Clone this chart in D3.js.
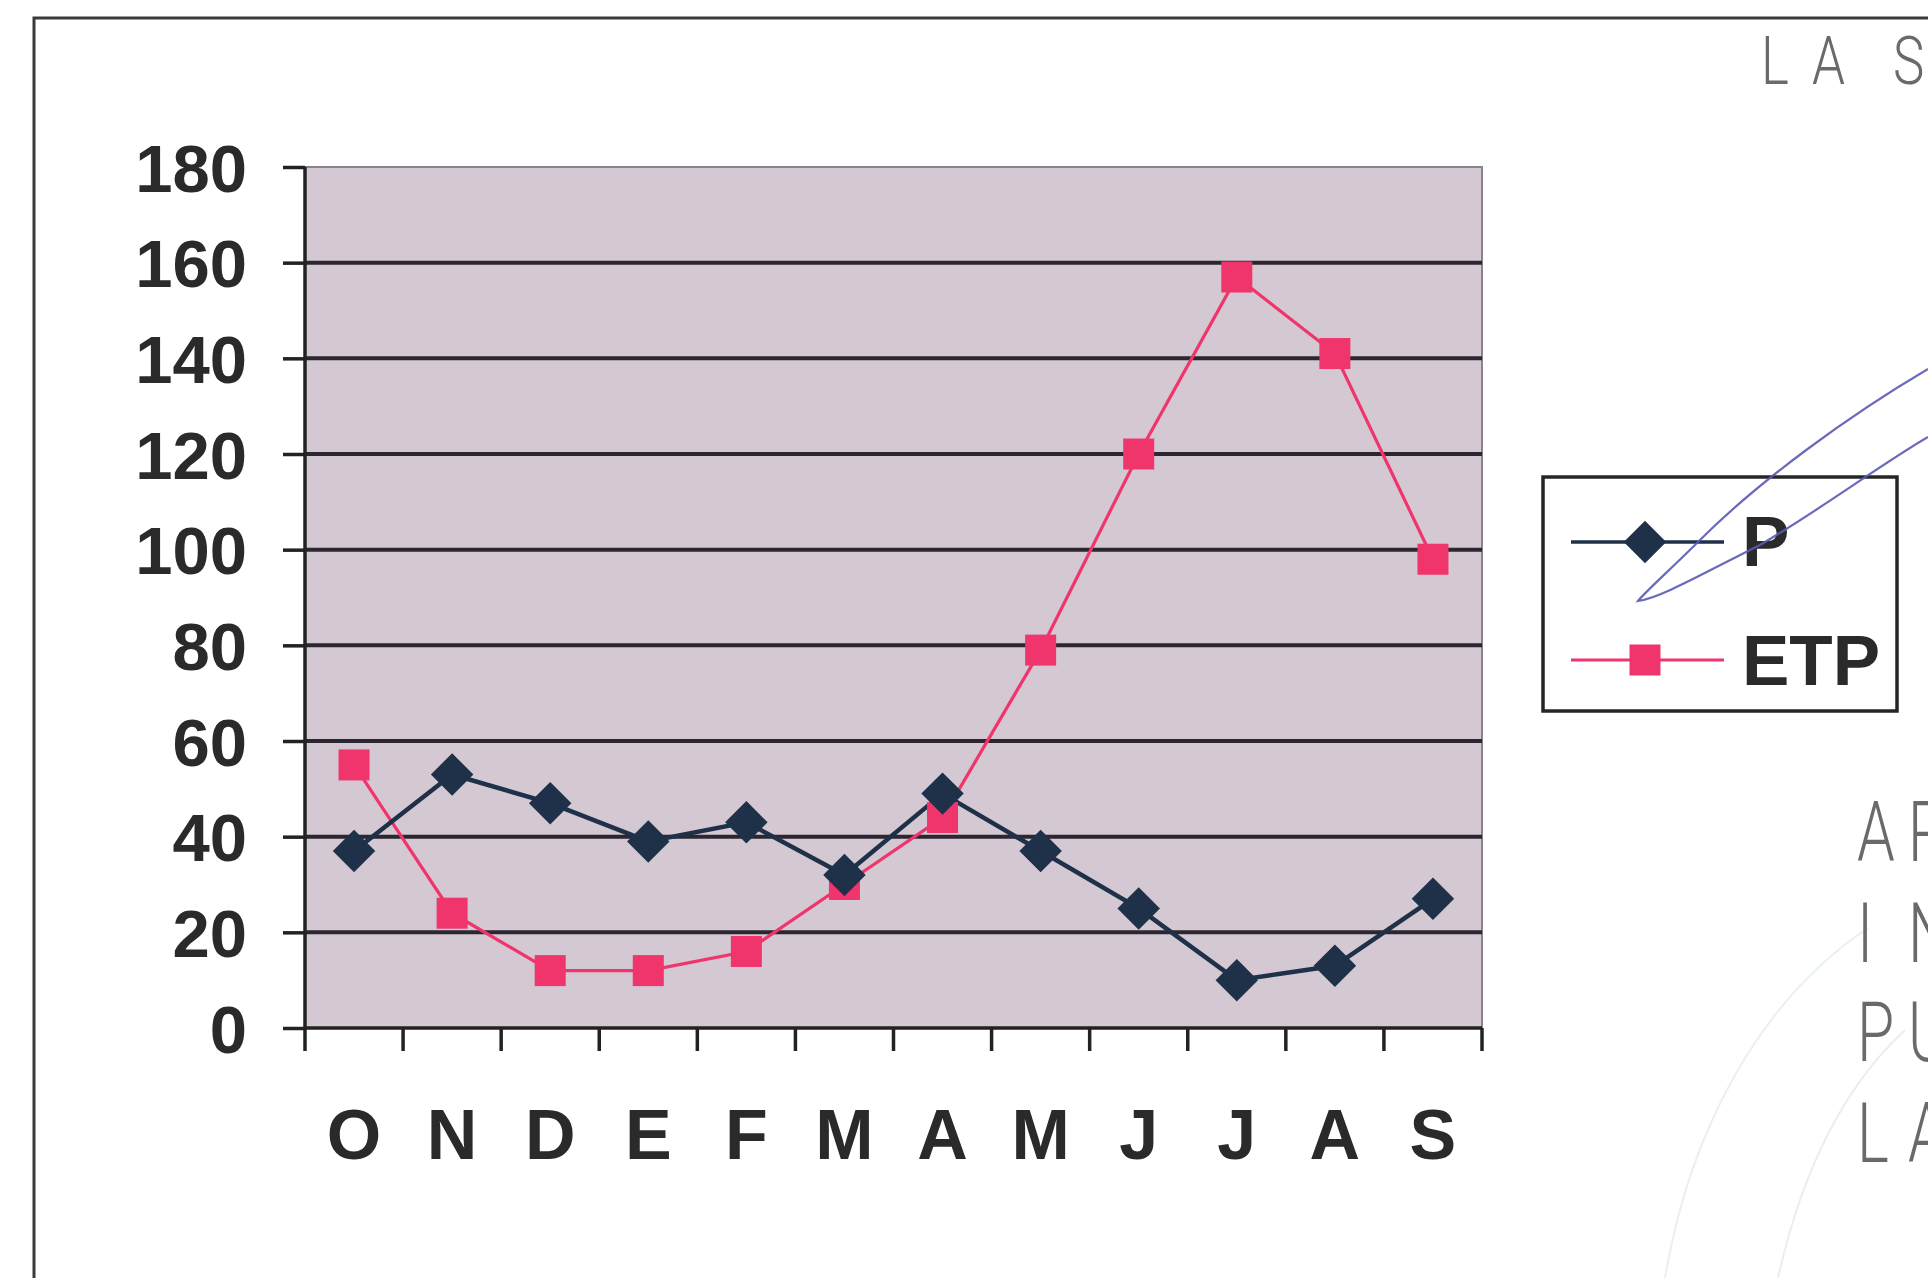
<!DOCTYPE html>
<html>
<head>
<meta charset="utf-8">
<script src="https://cdn.jsdelivr.net/npm/d3@7/dist/d3.min.js"></script>
<style>
  html, body { margin: 0; padding: 0; background: #fff; }
  svg { display: block; }
</style>
</head>
<body>
<svg id="chart" width="1928" height="1278"></svg>
<script>
// Monthly water balance: precipitation (P) and potential evapotranspiration (ETP), Oct–Sep
const months = ["O", "N", "D", "E", "F", "M", "A", "M", "J", "J", "A", "S"];
const pValues = [37, 53, 47, 39, 43, 32, 49, 37, 25, 10, 13, 27];
const etpValues = [55, 24, 12, 12, 16, 30, 44, 79, 120, 157, 141, 98];
const yTicks = [0, 20, 40, 60, 80, 100, 120, 140, 160, 180];

const svg = d3.select("#chart");
const W = 1928, H = 1278;
const plot = { left: 305, right: 1482, top: 167, bottom: 1028 };

const x = d3.scaleBand()
  .domain(d3.range(months.length))
  .range([plot.left, plot.right]);
const y = d3.scaleLinear().domain([0, 180]).range([plot.bottom, plot.top]);

// Outer frame (top and left edges visible)
svg.append("path")
  .attr("d", `M34,${H} L34,18 L${W},18`)
  .attr("fill", "none").attr("stroke", "#3a3a3a").attr("stroke-width", 3);

// Plot area
svg.append("rect")
  .attr("x", plot.left).attr("y", plot.top)
  .attr("width", plot.right - plot.left).attr("height", plot.bottom - plot.top)
  .attr("fill", "#d4c8d2").attr("stroke", "#8a8290").attr("stroke-width", 2);

// Horizontal gridlines
svg.append("g").selectAll("line")
  .data(yTicks.filter(d => d > 0 && d < 180))
  .join("line")
  .attr("x1", plot.left).attr("x2", plot.right)
  .attr("y1", d => y(d)).attr("y2", d => y(d))
  .attr("stroke", "#2b2630").attr("stroke-width", 4);

// Y axis
const yAxis = svg.append("g")
  .attr("transform", `translate(${plot.left},0)`)
  .call(d3.axisLeft(y).tickValues(yTicks).tickSize(22).tickPadding(36));
yAxis.select(".domain").attr("stroke", "#222").attr("stroke-width", 3.5)
  .attr("d", `M0,${plot.top}V${plot.bottom}`);
yAxis.selectAll(".tick line").attr("stroke", "#222").attr("stroke-width", 3.5);
yAxis.selectAll(".tick text")
  .attr("font-family", "Liberation Sans, Arial, sans-serif")
  .attr("font-weight", "bold").attr("font-size", 67)
  .attr("fill", "#2a2a2a").attr("dy", "0.36em");

// X axis: ticks on category boundaries
const boundaries = d3.range(months.length + 1).map(i => plot.left + i * x.bandwidth());
const xAxis = svg.append("g");
xAxis.append("line")
  .attr("x1", plot.left).attr("x2", plot.right)
  .attr("y1", plot.bottom).attr("y2", plot.bottom)
  .attr("stroke", "#222").attr("stroke-width", 3.5);
xAxis.selectAll("line.tk")
  .data(boundaries)
  .join("line").attr("class", "tk")
  .attr("x1", d => d).attr("x2", d => d)
  .attr("y1", plot.bottom).attr("y2", plot.bottom + 23)
  .attr("stroke", "#222").attr("stroke-width", 3.5);
xAxis.selectAll("text")
  .data(months)
  .join("text")
  .attr("x", (d, i) => x(i) + x.bandwidth() / 2)
  .attr("y", 1159)
  .attr("text-anchor", "middle")
  .attr("font-family", "Liberation Sans, Arial, sans-serif")
  .attr("font-weight", "bold").attr("font-size", 70)
  .attr("fill", "#2a2a2a")
  .text(d => d);

const cx = i => x(i) + x.bandwidth() / 2;
const line = d3.line().x((d, i) => cx(i)).y(d => y(d));

const pColor = "#1f3049";
const etpColor = "#f0346c";

// ETP series
svg.append("path")
  .datum(etpValues)
  .attr("d", line)
  .attr("fill", "none").attr("stroke", etpColor).attr("stroke-width", 3.2);

// P series
svg.append("path")
  .datum(pValues)
  .attr("d", line)
  .attr("fill", "none").attr("stroke", pColor).attr("stroke-width", 4.5);

const sq = 31;
svg.append("g").selectAll("rect")
  .data(etpValues)
  .join("rect")
  .attr("x", (d, i) => cx(i) - sq / 2)
  .attr("y", d => y(d) - sq / 2)
  .attr("width", sq).attr("height", sq)
  .attr("fill", etpColor);

const diamond = d3.symbol().type(d3.symbolDiamond2).size(1150);
svg.append("g").selectAll("path")
  .data(pValues)
  .join("path")
  .attr("transform", (d, i) => `translate(${cx(i)},${y(d)})`)
  .attr("d", diamond)
  .attr("fill", pColor);

// Legend
const legend = svg.append("g");
legend.append("rect")
  .attr("x", 1543).attr("y", 477).attr("width", 354).attr("height", 234)
  .attr("fill", "#fff").attr("stroke", "#262626").attr("stroke-width", 3.5);

const legendItems = [
  { name: "P", color: pColor, y: 542, mark: "diamond", baseline: 566 },
  { name: "ETP", color: etpColor, y: 660, mark: "square", baseline: 685 }
];
legendItems.forEach(it => {
  legend.append("line")
    .attr("x1", 1571).attr("x2", 1724).attr("y1", it.y).attr("y2", it.y)
    .attr("stroke", it.color).attr("stroke-width", it.mark === "diamond" ? 3.5 : 3);
  if (it.mark === "diamond") {
    legend.append("path")
      .attr("transform", `translate(1645,${it.y})`)
      .attr("d", diamond).attr("fill", it.color);
  } else {
    legend.append("rect")
      .attr("x", 1645 - sq / 2).attr("y", it.y - sq / 2)
      .attr("width", sq).attr("height", sq).attr("fill", it.color);
  }
  legend.append("text")
    .attr("x", 1742).attr("y", it.baseline)
    .attr("font-family", "Liberation Sans, Arial, sans-serif")
    .attr("font-weight", "bold").attr("font-size", 71)
    .attr("fill", "#2a2a2a")
    .text(it.name);
});

// Hand-drawn pen loop over the legend
svg.append("path")
  .attr("d", "M1928,369 C1850,415 1760,480 1700,540 C1670,570 1645,592 1638,601 C1660,598 1700,575 1760,545 C1820,510 1880,465 1928,437")
  .attr("fill", "none").attr("stroke", "#5a5ab4").attr("stroke-width", 2.2)
  .attr("opacity", 0.9);

// Faint stamp arcs, lower right
svg.append("path")
  .attr("d", "M1665,1278 C1690,1130 1760,1000 1868,928")
  .attr("fill", "none").attr("stroke", "#e8f0f2").attr("stroke-width", 2);
svg.append("path")
  .attr("d", "M1778,1278 C1800,1180 1840,1090 1905,1030")
  .attr("fill", "none").attr("stroke", "#ecedf4").attr("stroke-width", 2);

// Stamp lettering (runs off the right edge of the sheet)
const stamp = svg.append("g")
  .attr("font-family", "Roboto, Inter, sans-serif")
  .attr("font-weight", 300)
  .attr("fill", "#6a6a6a");
const topStamp = [["L", 1761], ["A", 1812], ["S", 1893]];
topStamp.forEach(([t, px]) => {
  stamp.append("text")
    .attr("transform", `translate(${px},84) scale(0.8,1)`)
    .attr("font-size", 66).text(t);
});
const sideStamp = [["A", "R", 861], ["I", "N", 962], ["P", "U", 1061], ["L", "A", 1162]];
sideStamp.forEach(([a, b, by]) => {
  stamp.append("text")
    .attr("transform", `translate(1857,${by}) scale(0.72,1)`)
    .attr("font-size", 84).text(a);
  stamp.append("text")
    .attr("transform", `translate(1908,${by}) scale(0.72,1)`)
    .attr("font-size", 84).text(b);
});
</script>
</body>
</html>
